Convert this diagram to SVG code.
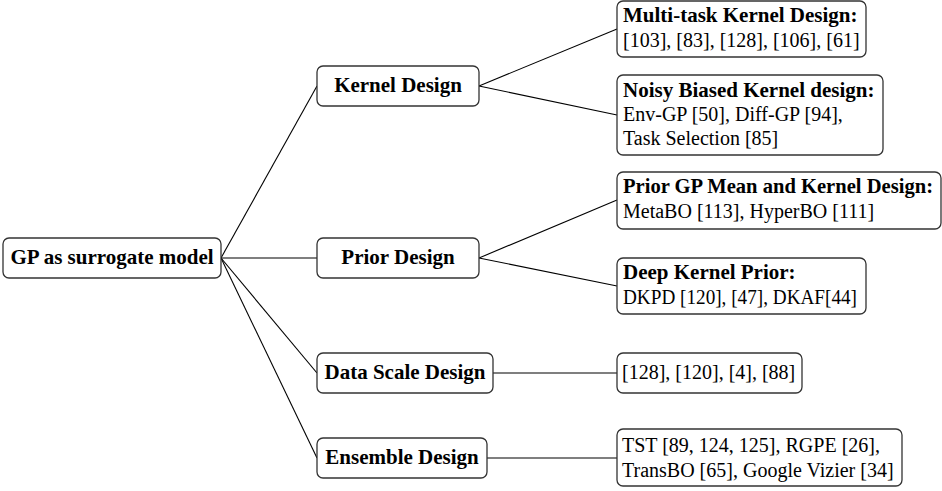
<svg xmlns="http://www.w3.org/2000/svg" width="942" height="491" viewBox="0 0 942 491">
<style>
  .box { fill: #ffffff; stroke: #333333; stroke-width: 1.3; }
  .b { font-family: "Liberation Serif", "DejaVu Serif", serif; font-size: 21px; font-weight: bold; fill: #000; }
  .r { font-family: "Liberation Serif", "DejaVu Serif", serif; font-size: 20px; fill: #000; }
  .c { text-anchor: middle; }
  .edge { stroke: #000; stroke-width: 1.1; fill: none; }
</style>
<rect width="942" height="491" fill="#ffffff"/>
<g id="connectors">
  <line class="edge" x1="221" y1="258" x2="317" y2="86"/>
  <line class="edge" x1="221" y1="258" x2="317" y2="258"/>
  <line class="edge" x1="221" y1="258" x2="317" y2="373"/>
  <line class="edge" x1="221" y1="258" x2="317" y2="458"/>
  <line class="edge" x1="479" y1="86" x2="617" y2="29"/>
  <line class="edge" x1="479" y1="86" x2="617" y2="115"/>
  <line class="edge" x1="479" y1="258" x2="617" y2="200"/>
  <line class="edge" x1="479" y1="258" x2="617" y2="286"/>
  <line class="edge" x1="493" y1="373" x2="617" y2="373"/>
  <line class="edge" x1="487" y1="458" x2="617" y2="458"/>
</g>
<g id="root">
  <rect class="box" x="3" y="238" width="218" height="40" rx="6"/>
  <text class="b c" x="112" y="264">GP as surrogate model</text>
</g>
<g id="kernel">
  <rect class="box" x="317" y="66" width="162" height="40" rx="6"/>
  <text class="b c" x="398" y="92">Kernel Design</text>
</g>
<g id="prior">
  <rect class="box" x="317" y="238" width="162" height="40" rx="6"/>
  <text class="b c" x="398" y="264">Prior Design</text>
</g>
<g id="datascale">
  <rect class="box" x="317" y="353" width="176" height="40" rx="6"/>
  <text class="b c" x="405" y="379">Data Scale Design</text>
</g>
<g id="ensemble">
  <rect class="box" x="317" y="438" width="170" height="40" rx="6"/>
  <text class="b c" x="402" y="464">Ensemble Design</text>
</g>
<g id="multitask">
  <rect class="box" x="617" y="1" width="249" height="56" rx="6"/>
  <text class="b" x="623" y="22">Multi-task Kernel Design:</text>
  <text class="r" x="623" y="47">[103], [83], [128], [106], [61]</text>
</g>
<g id="noisy">
  <rect class="box" x="617" y="75" width="266" height="80" rx="6"/>
  <text class="b" x="623" y="97">Noisy Biased Kernel design:</text>
  <text class="r" x="623" y="121">Env-GP [50], Diff-GP [94],</text>
  <text class="r" x="623" y="145">Task Selection [85]</text>
</g>
<g id="priorgp">
  <rect class="box" x="617" y="172" width="324" height="57" rx="6"/>
  <text class="b" x="623" y="193" textLength="310" lengthAdjust="spacingAndGlyphs">Prior GP Mean and Kernel Design:</text>
  <text class="r" x="623" y="218">MetaBO [113], HyperBO [111]</text>
</g>
<g id="deepkernel">
  <rect class="box" x="617" y="258" width="249" height="56" rx="6"/>
  <text class="b" x="623" y="279">Deep Kernel Prior:</text>
  <text class="r" x="623" y="304" textLength="234" lengthAdjust="spacingAndGlyphs">DKPD [120], [47], DKAF[44]</text>
</g>
<g id="datarefs">
  <rect class="box" x="617" y="353" width="185" height="40" rx="6"/>
  <text class="r" x="622" y="379">[128], [120], [4], [88]</text>
</g>
<g id="ensemblerefs">
  <rect class="box" x="617" y="429" width="285" height="57" rx="6"/>
  <text class="r" x="622" y="452">TST [89, 124, 125], RGPE [26],</text>
  <text class="r" x="622" y="477">TransBO [65], Google Vizier [34]</text>
</g>
</svg>
